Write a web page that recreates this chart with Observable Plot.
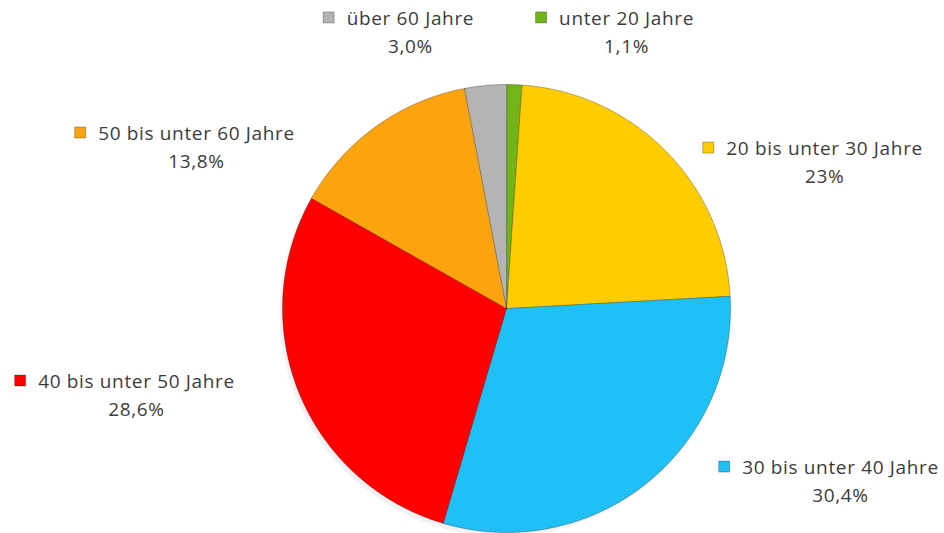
<!DOCTYPE html>
<html>
<head>
<meta charset="utf-8">
<script src="https://cdn.jsdelivr.net/npm/d3@7"></script>
<script src="https://cdn.jsdelivr.net/npm/@observablehq/plot@0.6"></script>
<style>
  html, body { margin: 0; padding: 0; background: #ffffff; }
  #chart svg { display: block; }
  #chart svg text { letter-spacing: 0.65px; }
</style>
</head>
<body>
<div id="chart"></div>
<script>
// ---- data ----
const categories = ["unter 20 Jahre", "20 bis unter 30 Jahre", "30 bis unter 40 Jahre", "40 bis unter 50 Jahre", "50 bis unter 60 Jahre", "über 60 Jahre"];
const shares = [1.1, 23, 30.4, 28.6, 13.8, 3.0];
const shareLabels = ["1,1%", "23%", "30,4%", "28,6%", "13,8%", "3,0%"];
const colors = ["#72b51a", "#ffcc00", "#1ec0f5", "#fe0000", "#fca40e", "#b4b4b4"];

// ---- label layout (data units of the unit-circle frame) ----
const labelX = [0.536, 1.42, 1.491, -1.652, -1.384, -0.429];
const labelY = [1.295, 0.714, -0.71, -0.326, 0.781, 1.295];

const FONT_FAMILY = "'Open Sans', Lato, sans-serif";
const FONT_SIZE = 19;
const LETTER_SPACING = 0.65;
const R_PX = 224;

// slices as polygons in the unit circle (angle clockwise from 12 o'clock)
const arcs = d3.pie().sort(null).value(d => d)(shares);
const slicePts = [];
arcs.forEach((a, i) => {
  const cat = categories[i];
  slicePts.push({cat, x: 0, y: 0});
  const n = Math.max(2, Math.ceil((a.endAngle - a.startAngle) / (Math.PI / 720)));
  for (let k = 0; k <= n; k++) {
    const t = a.startAngle + (a.endAngle - a.startAngle) * k / n;
    slicePts.push({cat, x: Math.sin(t), y: Math.cos(t)});
  }
});

// measure label widths for marker placement
const ctx = document.createElement("canvas").getContext("2d");
ctx.font = FONT_SIZE + "px " + FONT_FAMILY;
const labels = categories.map((c, i) => {
  const w = ctx.measureText(c).width + LETTER_SPACING * c.length;
  return {cat: c, pct: shareLabels[i], x: labelX[i], y: labelY[i],
          mx: labelX[i] - (w / 2 + 18) / R_PX, my: labelY[i] + 1 / R_PX};
});

const chart = Plot.plot({
  width: 944,
  height: 533,
  marginLeft: 282,
  marginRight: 214,
  marginTop: 84,
  marginBottom: 1,
  x: {domain: [-1, 1], axis: null},
  y: {domain: [-1, 1], axis: null},
  color: {domain: categories, range: colors},
  style: {fontFamily: FONT_FAMILY, background: "#ffffff", overflow: "visible"},
  marks: [
    // soft shadow
    Plot.line(slicePts, {x: "x", y: "y", z: "cat", curve: "linear-closed", fill: "#000", fillOpacity: 0.05, stroke: "none", dx: -3, dy: 4}),
    Plot.line(slicePts, {x: "x", y: "y", z: "cat", curve: "linear-closed", fill: "cat", stroke: "#000", strokeOpacity: 0.28, strokeWidth: 1, strokeLinejoin: "round"}),
    Plot.dot(labels, {x: "mx", y: "my", fill: "cat", symbol: "square", r: 6.2, stroke: "#000", strokeOpacity: 0.35, strokeWidth: 0.8}),
    Plot.text(labels, {x: "x", y: "y", text: "cat", fontSize: FONT_SIZE, fill: "#3c3c3c", textAnchor: "middle"}),
    Plot.text(labels, {x: "x", y: "y", text: "pct", fontSize: FONT_SIZE, fill: "#3c3c3c", textAnchor: "middle", dy: 28})
  ]
});
document.getElementById("chart").appendChild(chart);
</script>
</body>
</html>
